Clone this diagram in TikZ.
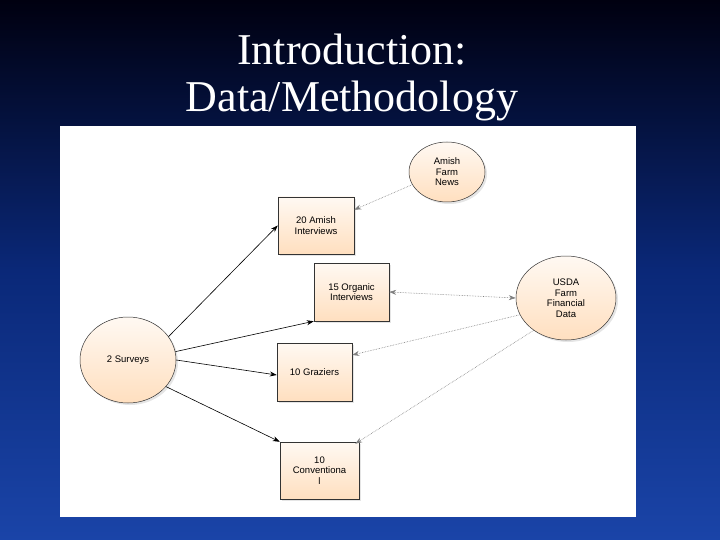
\documentclass[tikz,border=0pt]{standalone}
\usepackage{fontspec}
\setmainfont{Liberation Serif}
\newfontfamily\arial{Liberation Sans}
\usetikzlibrary{shapes.geometric,arrows.meta,shadows}
\definecolor{bgtop}{HTML}{000010}
\definecolor{bgmid}{HTML}{0A2878}
\definecolor{bgbot}{HTML}{1A44A8}
\begin{document}
\begin{tikzpicture}[x=1pt,y=-1pt,
 ent/.style={draw=black!80,line width=0.5pt,top color=orange!5,bottom color=orange!25,font=\arial\fontsize{9.5}{10.5}\selectfont,align=center,drop shadow={opacity=0.2,shadow xshift=2pt,shadow yshift=-2pt}},
 boxn/.style={ent,rectangle,inner sep=0pt},
 ell/.style={ent,ellipse,inner sep=0pt},
 sol/.style={-{Stealth[length=7pt,width=5pt]},black,line width=0.6pt},
 dot/.style={-{Stealth[length=7pt,width=5pt]},gray,densely dotted,line width=0.6pt}]
\useasboundingbox (0,0) rectangle (720,540);
\shade[top color=bgtop,bottom color=bgbot,middle color=bgmid] (0,0) rectangle (720,540);
\fill[white] (60,126) rectangle (636,517);
\node[white,font=\fontsize{44}{48}\selectfont] (t1) at (352,50) {Introduction:};
\node[white,font=\fontsize{44}{48}\selectfont] (t2) at (352,101) {Data/Methodology};
\node[ell,minimum width=76pt,minimum height=60pt] (afn) at (447,172) {Amish\\Farm\\News};
\node[ell,minimum width=100pt,minimum height=84pt] (usda) at (566,298) {USDA\\Farm\\Financial\\Data};
\node[ell,minimum width=96pt,minimum height=86pt] (sur) at (128,360) {2 Surveys};
\node[boxn,minimum width=76pt,minimum height=57pt] (ai) at (316,225.5) {20 Amish\\Interviews};
\node[boxn,minimum width=75pt,minimum height=58pt] (oi) at (351.5,292) {15 Organic\\Interviews};
\node[boxn,minimum width=75pt,minimum height=58pt] (gz) at (314.5,372) {10 Graziers};
\node[boxn,minimum width=79pt,minimum height=57pt] (cv) at (319.5,470.5) {10\\Conventiona\\l};
\draw[sol] (sur.30) -- (ai.west);
\draw[sol] (sur.10) -- (oi.south west);
\draw[sol] (sur.east) -- ([yshift=-3pt]gz.west);
\draw[sol] (sur.-35) -- (cv.north west);
\draw[dot] (afn.200) -- ([yshift=-13pt]ai.north east);
\draw[dot,{Stealth[length=7pt,width=5pt]}-{Stealth[length=7pt,width=5pt]}] (oi.east) -- (usda.west);
\draw[dot] (usda.200) -- ([yshift=17pt]gz.east);
\draw[dot] (usda.225) -- ([xshift=-4pt,yshift=-2pt]cv.north east);
\end{tikzpicture}
\end{document}
